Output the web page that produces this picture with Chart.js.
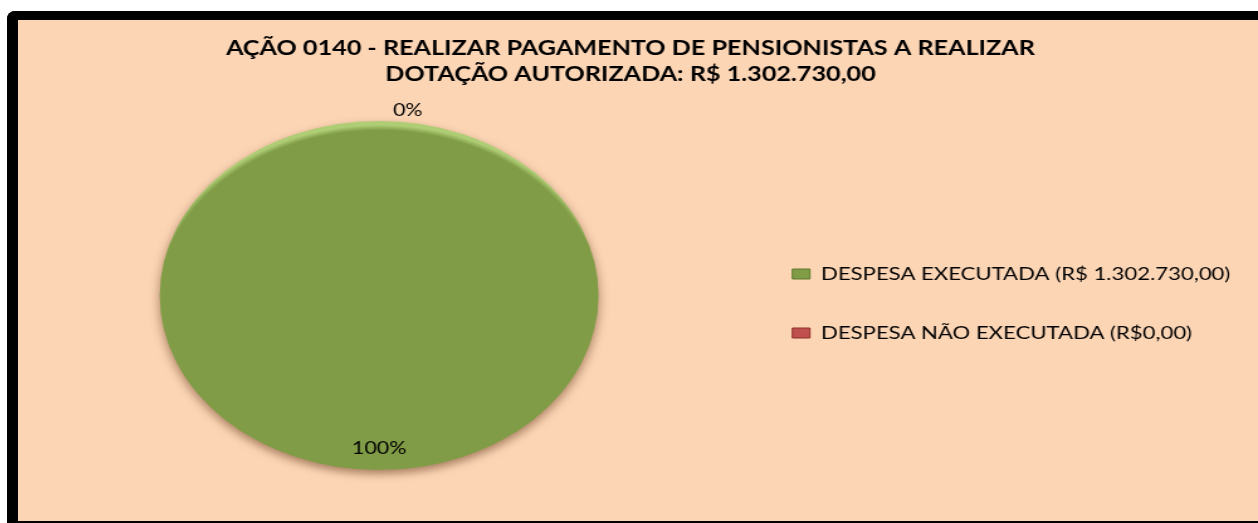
<!DOCTYPE html>
<html><head><meta charset="utf-8">
<script src="https://cdn.jsdelivr.net/npm/chart.js@4/dist/chart.umd.min.js"></script>
<style>
html,body{margin:0;padding:0;background:#fff;overflow:hidden;width:1258px;height:523px;}
#frame{position:absolute;left:7px;top:11px;width:1270px;height:501px;background:#FCD5B5;border-left:11px solid #000;border-top:9px solid #000;border-bottom:2px solid #000;border-top-left-radius:8px;}
#stretch{position:absolute;left:0;top:0;width:986px;height:501px;transform:scaleX(1.25761);transform-origin:0 0;}
canvas{display:block}
</style></head><body>
<div id="frame"><div id="stretch"><canvas id="c" width="986" height="501"></canvas></div></div>
<script>
// ---- data ----
const titleLines = ['AÇÃO 0140 - REALIZAR PAGAMENTO DE PENSIONISTAS A REALIZAR', 'DOTAÇÃO AUTORIZADA: R$ 1.302.730,00'];
const categories = ['DESPESA EXECUTADA (R$ 1.302.730,00)', 'DESPESA NÃO EXECUTADA (R$0,00)'];
const values = [1302730, 0];

// ---- styles ----
const sliceColors = ['#809C46', '#C0504D'];
const rimColors = ['#AECD75', '#DA8583'];
const edgeColors = ['#5F7A2E', '#8E2E2B'];

const total = values.reduce((a, b) => a + b, 0);
const percentLabels = values.map(v => Math.round(v / total * 100) + '%');

function sliceFill(ctx) {
  const base = sliceColors[ctx.dataIndex];
  const ca = ctx.chart.chartArea;
  if (!ca || ctx.type !== 'data') return base;
  const cx = (ca.left + ca.right) / 2, cy = (ca.top + ca.bottom) / 2;
  const R = Math.min(ca.right - ca.left, ca.bottom - ca.top) / 2;
  const sh = 12;
  const g = ctx.chart.ctx.createRadialGradient(cx, cy + sh, 0, cx, cy + sh, R + sh);
  g.addColorStop(0, base);
  g.addColorStop(0.95, base);
  g.addColorStop(0.978, rimColors[ctx.dataIndex]);
  g.addColorStop(1, rimColors[ctx.dataIndex]);
  return g;
}

const pieShadow = {
  id: 'pieShadow',
  beforeDatasetsDraw(chart) {
    const c = chart.ctx;
    c.save();
    c.shadowColor = 'rgba(95,55,25,0.55)';
    c.shadowBlur = 8;
    c.shadowOffsetY = 4;
  },
  afterDatasetsDraw(chart) { chart.ctx.restore(); }
};

const sliceLabels = {
  id: 'sliceLabels',
  afterDraw(chart) {
    const meta = chart.getDatasetMeta(0);
    const c = chart.ctx;
    c.save();
    c.font = '17px Lato';
    c.fillStyle = '#000';
    c.textBaseline = 'middle';
    meta.data.forEach((arc, i) => {
      const p = arc.getProps(['x', 'y', 'startAngle', 'endAngle', 'outerRadius'], true);
      const mid = (p.startAngle + p.endAngle) / 2;
      if (p.endAngle - p.startAngle > 0.001) {
        const r = p.outerRadius * 0.875;
        c.textAlign = 'center';
        c.fillText(percentLabels[i], p.x + Math.cos(mid) * r, p.y + Math.sin(mid) * r);
      } else {
        const r = p.outerRadius + 10;
        c.textAlign = 'left';
        c.fillText(percentLabels[i], p.x + Math.cos(mid) * r + 11, p.y + Math.sin(mid) * r);
      }
    });
    c.restore();
  }
};

function draw() {
  new Chart(document.getElementById('c'), {
    type: 'pie',
    data: {
      labels: categories,
      datasets: [{
        data: values,
        backgroundColor: sliceFill,
        borderWidth: 0,
        hoverBorderWidth: 0,
        clip: false
      }]
    },
    options: {
      responsive: false,
      animation: false,
      events: [],
      layout: { padding: { left: 0, right: 12, top: 0, bottom: 51 } },
      plugins: {
        title: {
          display: true,
          text: titleLines,
          color: '#000',
          font: { family: 'Lato', size: 20, weight: 'bold', lineHeight: 1.3 },
          padding: { top: 16, bottom: 33 }
        },
        legend: {
          position: 'right',
          fullSize: false,
          align: 'center',
          title: { display: true, text: '', font: { size: 10, lineHeight: 1 }, padding: 3 },
          labels: {
            boxWidth: 14,
            boxHeight: 10,
            padding: 41.4,
            color: '#000',
            font: { family: 'Lato', size: 17.6 },
            generateLabels(chart) {
              return chart.data.labels.map((t, i) => ({
                text: t, fillStyle: sliceColors[i], strokeStyle: edgeColors[i],
                lineWidth: 1, hidden: false, index: i, fontColor: '#000'
              }));
            }
          }
        },
        tooltip: { enabled: false }
      }
    },
    plugins: [pieShadow, sliceLabels]
  });
}
Promise.all([
  document.fonts.load('bold 20px Lato'),
  document.fonts.load('17.6px Lato'),
  document.fonts.load('17px Lato')
]).then(draw, draw);
</script>
</body></html>
